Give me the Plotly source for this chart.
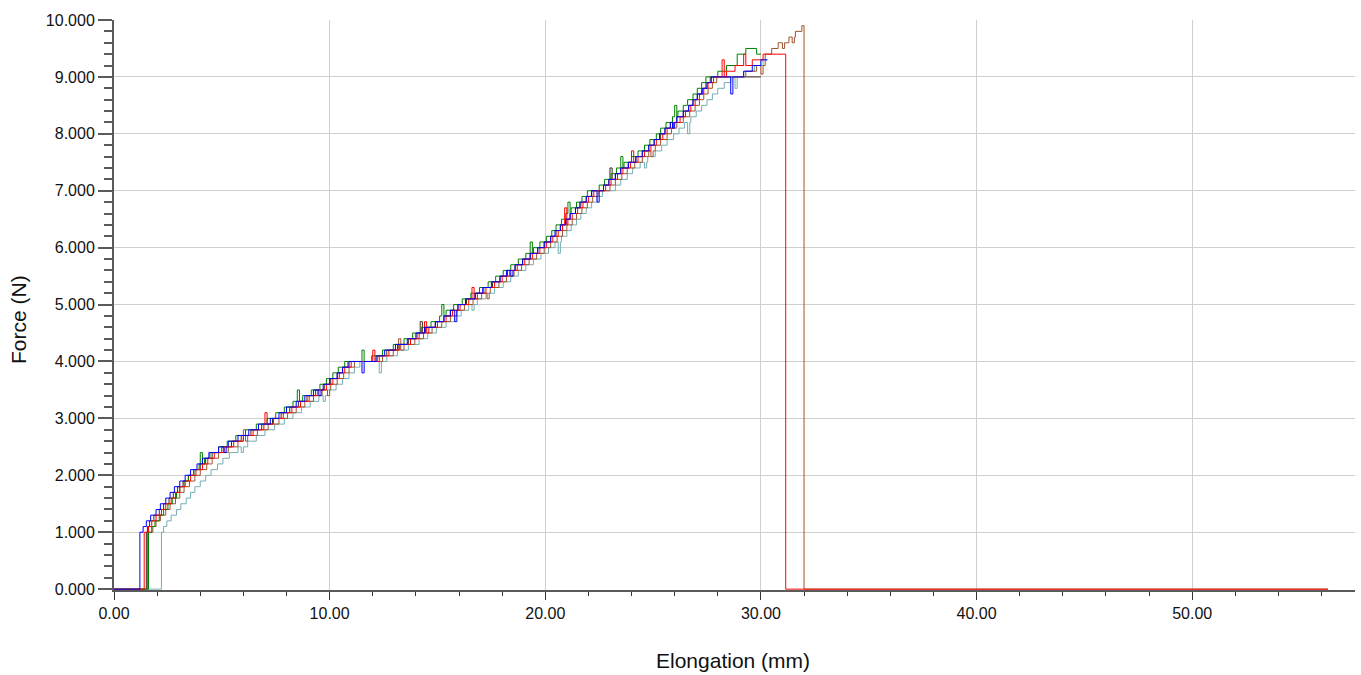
import plotly.graph_objects as go

# ---- data: elongation (mm) at which each force level (N, shown as x.000) is first reached ----
force_levels = [1.0, 1.1, 1.2, 1.3, 1.4, 1.5, 1.6, 1.7, 1.8, 1.9,
                2.0, 2.1, 2.2, 2.3, 2.4, 2.5, 2.6, 2.7, 2.8, 2.9,
                3.0, 3.1, 3.2, 3.3, 3.4, 3.5, 3.6, 3.7, 3.8, 3.9,
                4.0, 4.1, 4.2, 4.3, 4.4, 4.5, 4.6, 4.7, 4.8, 4.9,
                5.0, 5.1, 5.2, 5.3, 5.4, 5.5, 5.6, 5.7, 5.8, 5.9,
                6.0, 6.1, 6.2, 6.3, 6.4, 6.5, 6.6, 6.7, 6.8, 6.9,
                7.0, 7.1, 7.2, 7.3, 7.4, 7.5, 7.6, 7.7, 7.8, 7.9,
                8.0, 8.1, 8.2, 8.3, 8.4, 8.5, 8.6, 8.7, 8.8, 8.9,
                9.0]

blue_x = [1.2, 1.35, 1.5, 1.7, 1.95, 2.15, 2.4, 2.6, 2.8, 3.05,
          3.3, 3.55, 3.85, 4.1, 4.4, 4.85, 5.3, 5.75, 6.25, 6.7,
          7.25, 7.65, 8.0, 8.45, 8.85, 9.25, 9.7, 10.0, 10.35, 10.6,
          10.9, 12.2, 12.55, 13.05, 13.6, 14.0, 14.4, 14.9, 15.3, 15.6,
          15.95, 16.3, 16.75, 17.1, 17.5, 17.9, 18.2, 18.6, 18.95, 19.3,
          19.65, 19.95, 20.25, 20.45, 20.7, 20.95, 21.15, 21.4, 21.6, 21.9,
          22.15, 22.7, 22.95, 23.25, 23.5, 23.85, 24.2, 24.5, 24.8, 25.05,
          25.3, 25.55, 25.8, 26.1, 26.4, 26.65, 26.85, 27.05, 27.3, 27.5,
          27.7]
blue_tail_x = [29.2, 29.6, 30.0, 30.3]
blue_tail_f = [9.1, 9.2, 9.3, 9.3]
blue_spike_x = [5.1, 9.5, 11.5, 15.8, 18.4, 22.4, 25.9, 28.6]
blue_spike_f = [2.4, 3.4, 3.8, 4.7, 5.5, 6.8, 8.1, 8.7]

red_x = [1.4, 1.6, 1.75, 1.95, 2.2, 2.4, 2.65, 2.85, 3.05, 3.3,
         3.55, 3.8, 4.1, 4.35, 4.65, 5.1, 5.55, 6.0, 6.45, 6.95,
         7.4, 7.85, 8.25, 8.65, 9.05, 9.45, 9.85, 10.15, 10.45, 10.7,
         11.0, 12.3, 12.75, 13.25, 13.75, 14.15, 14.6, 15.0, 15.4, 15.7,
         16.05, 16.45, 16.85, 17.25, 17.65, 18.0, 18.35, 18.7, 19.05, 19.4,
         19.75, 20.05, 20.35, 20.6, 20.8, 21.05, 21.25, 21.5, 21.75, 22.0,
         22.25, 22.8, 23.05, 23.35, 23.6, 23.95, 24.3, 24.6, 24.9, 25.15,
         25.45, 25.65, 25.95, 26.25, 26.5, 26.75, 26.95, 27.15, 27.35, 27.55,
         27.8]
red_tail_x = [28.4, 28.8, 29.6, 30.1, 31.15, 56.3]
red_tail_f = [9.1, 9.2, 9.3, 9.4, 0.0, 0.0]
red_spike_x = [7.0, 12.0, 14.4, 16.6, 20.9, 24.0, 28.2, 29.2]
red_spike_f = [3.1, 4.2, 4.7, 5.3, 6.7, 7.7, 9.3, 9.4]

green_x = [1.6, 1.75, 1.9, 2.1, 2.3, 2.5, 2.7, 2.9, 3.05, 3.25,
           3.45, 3.7, 3.95, 4.2, 4.45, 4.85, 5.25, 5.65, 6.1, 6.6,
           7.1, 7.5, 7.9, 8.3, 8.75, 9.15, 9.55, 9.85, 10.15, 10.4,
           10.7, 11.95, 12.45, 12.95, 13.45, 13.85, 14.25, 14.7, 15.1, 15.4,
           15.75, 16.15, 16.55, 16.95, 17.35, 17.7, 18.05, 18.4, 18.75, 19.1,
           19.45, 19.75, 20.05, 20.3, 20.5, 20.75, 20.95, 21.2, 21.45, 21.7,
           21.95, 22.5, 22.75, 23.05, 23.3, 23.65, 24.0, 24.3, 24.6, 24.85,
           25.15, 25.35, 25.6, 25.9, 26.15, 26.4, 26.6, 26.85, 27.05, 27.25,
           27.45]
green_tail_x = [28.0, 28.4, 28.9, 29.3, 29.8, 30.0]
green_tail_f = [9.1, 9.2, 9.4, 9.5, 9.4, 9.4]
green_spike_x = [4.0, 8.5, 11.5, 15.2, 19.3, 21.05, 23.5, 26.0]
green_spike_f = [2.4, 3.5, 4.2, 5.0, 6.1, 6.8, 7.6, 8.5]

brown_x = [1.55, 1.8, 1.95, 2.15, 2.4, 2.6, 2.85, 3.05, 3.25, 3.5,
           3.75, 4.0, 4.3, 4.55, 4.85, 5.3, 5.75, 6.2, 6.65, 7.15,
           7.65, 8.05, 8.45, 8.85, 9.25, 9.65, 10.05, 10.35, 10.65, 10.9,
           11.15, 12.45, 12.95, 13.45, 13.95, 14.35, 14.75, 15.2, 15.6, 15.9,
           16.25, 16.65, 17.05, 17.45, 17.85, 18.2, 18.55, 18.9, 19.25, 19.6,
           19.95, 20.25, 20.55, 20.8, 21.0, 21.25, 21.45, 21.7, 21.95, 22.2,
           22.45, 23.0, 23.25, 23.55, 23.8, 24.15, 24.5, 24.8, 25.1, 25.35,
           25.65, 25.85, 26.1, 26.4, 26.7, 26.95, 27.15, 27.35, 27.55, 27.75,
           27.95]
brown_tail_x = [29.3, 29.8, 30.2, 30.5, 30.8, 31.3, 31.6, 31.9, 32.0, 56.3]
brown_tail_f = [9.1, 9.2, 9.4, 9.5, 9.6, 9.7, 9.8, 9.9, 0.0, 0.0]
brown_spike_x = [6.0, 9.9, 13.2, 17.3, 24.9, 30.0, 31.0, 31.45]
brown_spike_f = [2.8, 3.4, 4.4, 5.1, 7.6, 9.05, 9.5, 9.6]

teal_x = [2.2, 2.3, 2.45, 2.65, 2.9, 3.1, 3.35, 3.55, 3.75, 4.0,
          4.25, 4.5, 4.8, 5.05, 5.35, 5.75, 6.2, 6.6, 7.0, 7.45,
          7.9, 8.3, 8.7, 9.1, 9.5, 9.9, 10.3, 10.6, 10.9, 11.15,
          11.4, 12.65, 13.15, 13.65, 14.15, 14.55, 14.95, 15.4, 15.8, 16.1,
          16.45, 16.85, 17.25, 17.65, 18.05, 18.4, 18.75, 19.1, 19.45, 19.8,
          20.15, 20.45, 20.75, 21.0, 21.2, 21.45, 21.65, 21.9, 22.15, 22.4,
          22.65, 23.25, 23.5, 23.8, 24.05, 24.4, 24.75, 25.1, 25.4, 25.65,
          25.95, 26.2, 26.45, 26.75, 27.0, 27.25, 27.5, 27.75, 28.0, 28.3,
          28.6]
teal_tail_x = [29.2, 29.7, 30.1, 30.3]
teal_tail_f = [9.1, 9.2, 9.3, 9.3]
teal_spike_x = [5.9, 9.7, 12.3, 16.6, 20.6, 24.6, 26.6, 28.8]
teal_spike_f = [2.4, 3.3, 3.8, 4.9, 5.9, 7.4, 8.0, 8.8]

dark_x = [1.5, 1.55, 1.65, 1.85, 2.1, 2.3, 2.55, 2.75, 2.95, 3.2,
          3.45, 3.7, 4.0, 4.25, 4.55, 5.0, 5.45, 5.9, 6.35, 6.85,
          7.35, 7.75, 8.15, 8.55, 8.95, 9.35, 9.75, 10.05, 10.35, 10.6,
          10.85, 12.15, 12.65, 13.15, 13.65, 14.05, 14.45, 14.9, 15.3, 15.6,
          15.95, 16.35, 16.75, 17.15, 17.55, 17.9, 18.25, 18.6, 18.95, 19.3,
          19.65, 19.95, 20.25, 20.5, 20.7, 20.95, 21.15, 21.4, 21.65, 21.9,
          22.15, 22.7, 22.95, 23.25, 23.5, 23.85, 24.2, 24.5, 24.8, 25.05,
          25.35, 25.55, 25.8, 26.1, 26.4, 26.65, 26.85, 27.05, 27.25, 27.45,
          27.65]
dark_tail_x = [30.0]
dark_tail_f = [9.0]
dark_spike_x = [14.2, 23.0]
dark_spike_f = [4.7, 7.4]

y_ticks = [0, 1, 2, 3, 4, 5, 6, 7, 8, 9, 10]
y_tick_labels = ["0.000", "1.000", "2.000", "3.000", "4.000", "5.000",
                 "6.000", "7.000", "8.000", "9.000", "10.000"]
x_ticks = [0, 10, 20, 30, 40, 50]
x_tick_labels = ["0.00", "10.00", "20.00", "30.00", "40.00", "50.00"]

series = [
    ("dark", dark_x, dark_tail_x, dark_tail_f, dark_spike_x, dark_spike_f, "#3d2b1f"),
    ("teal", teal_x, teal_tail_x, teal_tail_f, teal_spike_x, teal_spike_f, "#74aeb4"),
    ("brown", brown_x, brown_tail_x, brown_tail_f, brown_spike_x, brown_spike_f, "#a0522d"),
    ("green", green_x, green_tail_x, green_tail_f, green_spike_x, green_spike_f, "#008000"),
    ("red", red_x, red_tail_x, red_tail_f, red_spike_x, red_spike_f, "#ff0000"),
    ("blue", blue_x, blue_tail_x, blue_tail_f, blue_spike_x, blue_spike_f, "#0000ff"),
]

SPIKE_W = 0.1  # width of a momentary reading excursion (mm)


def build(xc, tx, tf, sx, sf):
    assert len(xc) == len(force_levels)
    base = [(0.0, 0.0)] + list(zip(xc, force_levels)) + list(zip(tx, tf))
    pts = list(base)
    for a, v in zip(sx, sf):
        lvl = 0.0
        for bx, bf in base:
            if bx <= a:
                lvl = bf
        pts.append((a, v))
        pts.append((a + SPIKE_W, lvl))
    pts.sort(key=lambda p: p[0])
    return [p[0] for p in pts], [p[1] for p in pts]


fig = go.Figure()
for name, xc, tx, tf, sx, sf, col in series:
    xs, fs = build(xc, tx, tf, sx, sf)
    fig.add_trace(go.Scatter(x=xs, y=fs, mode="lines", name=name,
                             line=dict(color=col, width=1, shape="hv"),
                             hoverinfo="skip"))

W, H = 1361, 675
L, R, T, B = 114, 6, 20, 85
pw = W - L - R
ph = H - T - B

font_family = "Liberation Sans, Arial, sans-serif"
axis_col = "#5a5a5a"
grid_col = "#cfcfcf"

fig.update_layout(
    width=W, height=H,
    margin=dict(l=L, r=R, t=T, b=B, pad=0),
    paper_bgcolor="white", plot_bgcolor="white",
    showlegend=False,
    font=dict(family=font_family, size=16, color="#111111"),
)

fig.update_xaxes(
    range=[0, 57.55],
    tickvals=x_ticks, ticktext=x_tick_labels,
    ticks="outside", ticklen=8, tickwidth=1, tickcolor="#333333",
    minor=dict(dtick=2, tick0=0, ticks="outside", ticklen=4, tickwidth=1,
               tickcolor="#333333", showgrid=False),
    showline=True, linecolor=axis_col, linewidth=2,
    showgrid=True, gridcolor=grid_col, gridwidth=1,
    zeroline=False, layer="below traces",
    tickfont=dict(family=font_family, size=16, color="#111111"),
)
fig.update_yaxes(
    range=[-0.015, 10.0],
    tickvals=y_ticks, ticktext=y_tick_labels,
    ticks="outside", ticklen=14, tickwidth=2, tickcolor=axis_col,
    minor=dict(dtick=0.2, tick0=0, ticks="outside", ticklen=8, tickwidth=2,
               tickcolor=axis_col, showgrid=False),
    showline=True, linecolor=axis_col, linewidth=2,
    showgrid=True, gridcolor=grid_col, gridwidth=1,
    zeroline=False, layer="below traces",
    tickfont=dict(family=font_family, size=16, color="#111111"),
)

fig.add_annotation(text="Elongation (mm)", xref="paper", yref="paper",
                   x=(733 - L) / pw, y=(H - B - 660) / ph,
                   xanchor="center", yanchor="middle", showarrow=False,
                   font=dict(family=font_family, size=21, color="#111111"))
fig.add_annotation(text="Force (N)", xref="paper", yref="paper",
                   x=(18 - L) / pw, y=(H - B - 320) / ph, textangle=-90,
                   xanchor="center", yanchor="middle", showarrow=False,
                   font=dict(family=font_family, size=21, color="#111111"))

fig.write_html("out.html")
